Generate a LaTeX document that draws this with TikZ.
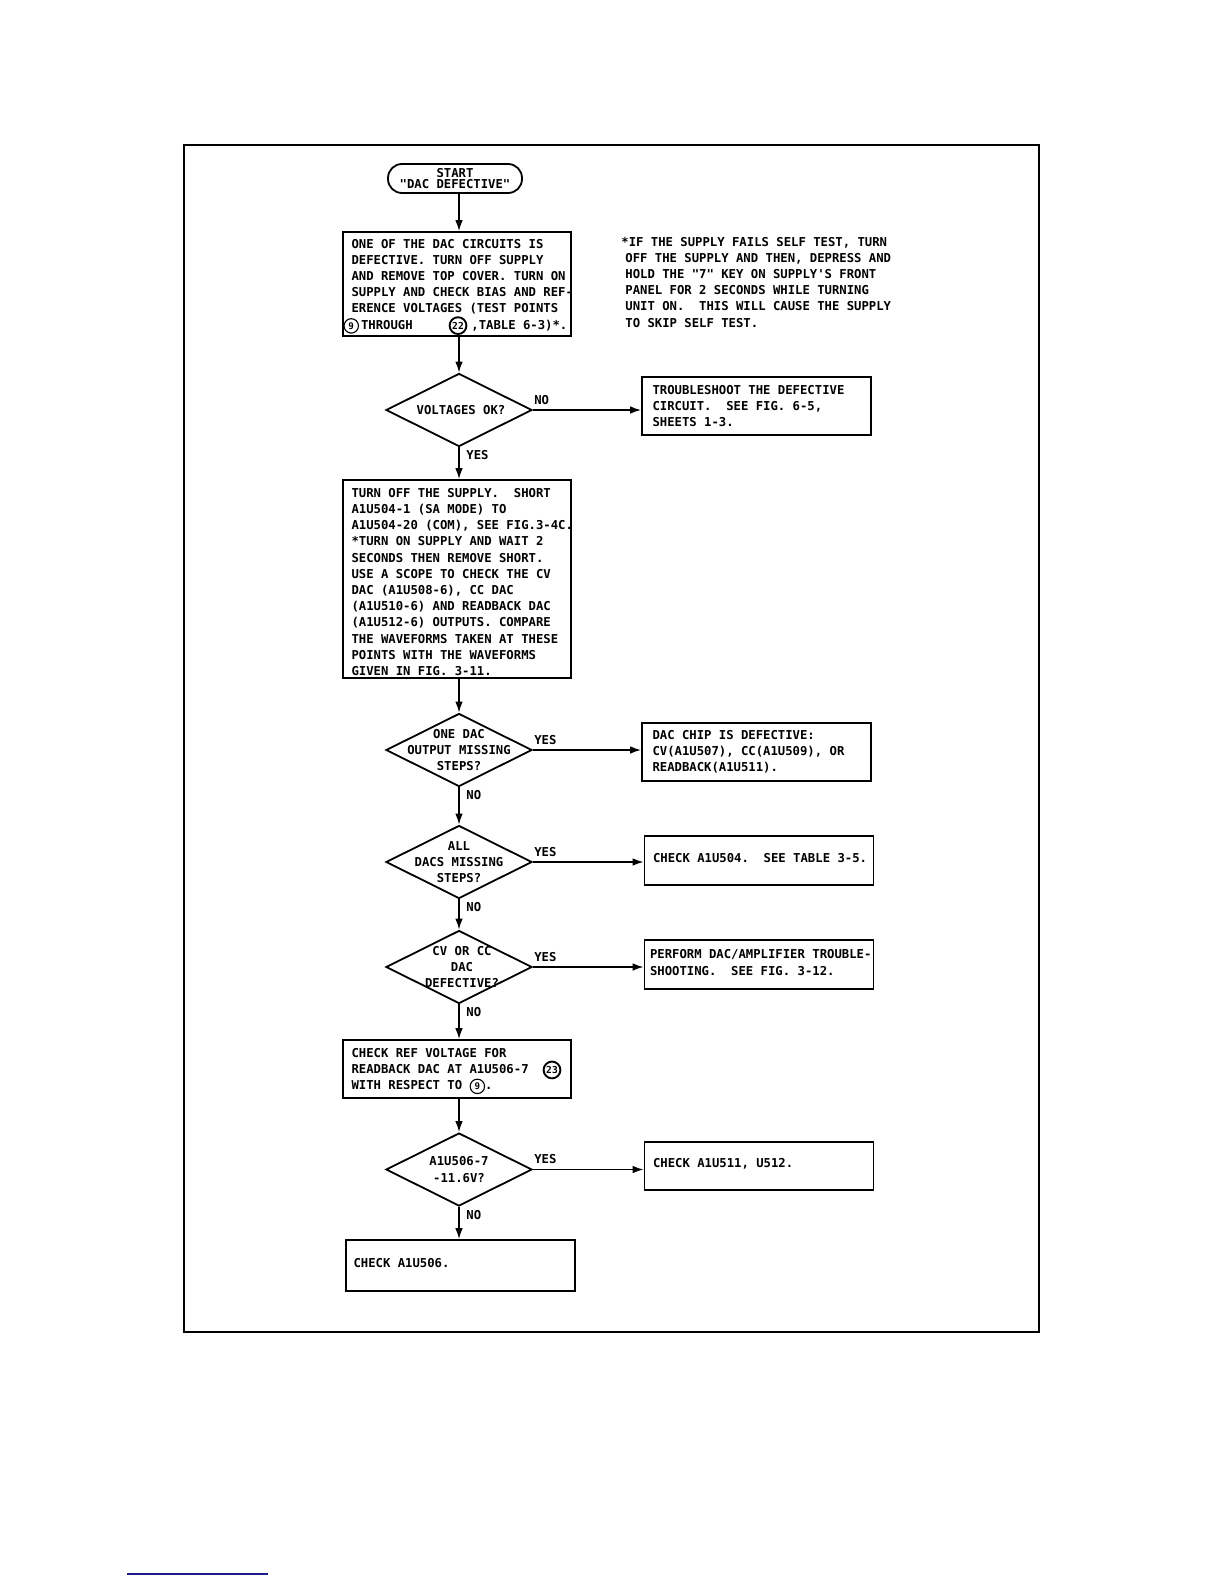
\documentclass[tikz,border=0pt]{standalone}
\usepackage{fontspec}
\newfontfamily\plotfont{DejaVu Sans Mono}
\usetikzlibrary{arrows.meta,shapes.geometric}
\definecolor{linkblue}{RGB}{28,28,140}
\newcommand\pf{\plotfont\bfseries\fontsize{6.13pt}{8.1pt}\selectfont}
\newcommand\cnum[1]{\smash{\tikz[baseline=(cn.base)]\node[circle,draw,line width=0.55pt,inner sep=0.3pt,minimum size=7.2pt,font=\plotfont\bfseries\fontsize{4.6pt}{5pt}\selectfont](cn){#1};}}
\newcommand\cnumb[1]{\smash{\tikz[baseline=(cn.base)]\node[circle,draw,line width=0.95pt,inner sep=0.2pt,minimum size=8.4pt,font=\plotfont\bfseries\fontsize{4.8pt}{5pt}\selectfont](cn){#1};}}
\begin{document}
\begin{tikzpicture}[x=0.5pt,y=-0.5pt,
  box/.style={draw,line width=0.9pt,rectangle,inner sep=0pt},
  lbox/.style={box,minimum width=114pt},
  sbox/.style={box,minimum width=114.5pt},
  txt/.style={font=\pf,align=left,inner sep=0pt,anchor=west},
  dia/.style={draw,line width=0.9pt,diamond,inner sep=0pt,minimum width=73pt,minimum height=36.5pt},
  dtxt/.style={font=\pf,align=center,inner sep=0pt},
  rlbl/.style={font=\pf,inner sep=0pt,anchor=south west,xshift=0.5pt,yshift=2.5pt},
  dlbl/.style={font=\pf,inner sep=0pt,anchor=north west,xshift=3.5pt,yshift=-1.5pt},
  arr/.style={line width=0.75pt,-{Latex[length=5.5pt,width=3.8pt]}},
]
\fill[white] (0,0) rectangle (1224,1584);
\useasboundingbox (0,0) rectangle (1224,1584);
\draw[line width=0.7pt] (184,145) rectangle (1039,1332);

% start
\node[box,rounded corners=7pt,minimum width=67pt,minimum height=14.5pt] (start) at (455,178.5) {};
\node[dtxt] (startt) at (start) {START\\[-2.2pt]"DAC DEFECTIVE"};

% box 1
\node[lbox,minimum height=52pt] (b1) at (457,284) {};
\node[txt,xshift=4.5pt,yshift=-0.5pt] (b1t) at (b1.west) {ONE OF THE DAC CIRCUITS IS\\
DEFECTIVE. TURN OFF SUPPLY\\
AND REMOVE TOP COVER. TURN ON\\
SUPPLY AND CHECK BIAS AND REF-\\
ERENCE VOLTAGES (TEST POINTS\\
\hspace*{-4pt}\cnum{9}\hspace{1pt}THROUGH\hspace{18pt}\cnumb{22}\hspace{2pt},TABLE 6-3)*.};

% note
\node[txt,anchor=north west] (note) at (621,236.5) {*IF THE SUPPLY FAILS SELF TEST, TURN\\
\hspace*{2pt}OFF THE SUPPLY AND THEN, DEPRESS AND\\
\hspace*{2pt}HOLD THE "7" KEY ON SUPPLY'S FRONT\\
\hspace*{2pt}PANEL FOR 2 SECONDS WHILE TURNING\\
\hspace*{2pt}UNIT ON.\ \ THIS WILL CAUSE THE SUPPLY\\
\hspace*{2pt}TO SKIP SELF TEST.};

% diamond 1
\node[dia] (d1) at (459,410) {};
\node[dtxt,xshift=1pt] (d1t) at (d1) {VOLTAGES OK?};
\node[box,minimum width=114.5pt,minimum height=29pt] (t1) at (756.5,406) {};
\node[txt,xshift=5.5pt] (t1t) at (t1.west) {TROUBLESHOOT THE DEFECTIVE\\
CIRCUIT.\ \ SEE FIG. 6-5,\\
SHEETS 1-3.};

% box 2
\node[lbox,minimum height=99pt] (b2) at (457,579) {};
\node[txt,xshift=4.5pt,yshift=-1.5pt] (b2t) at (b2.west) {TURN OFF THE SUPPLY.\ \ SHORT\\
A1U504-1 (SA MODE) TO\\
A1U504-20 (COM), SEE FIG.3-4C.\\
*TURN ON SUPPLY AND WAIT 2\\
SECONDS THEN REMOVE SHORT.\\
USE A SCOPE TO CHECK THE CV\\
DAC (A1U508-6), CC DAC\\
(A1U510-6) AND READBACK DAC\\
(A1U512-6) OUTPUTS. COMPARE\\
THE WAVEFORMS TAKEN AT THESE\\
POINTS WITH THE WAVEFORMS\\
GIVEN IN FIG. 3-11.};

% diamond 2
\node[dia] (d2) at (459,750) {};
\node[dtxt] (d2t) at (d2) {ONE DAC\\OUTPUT MISSING\\STEPS?};
\node[box,minimum width=114.5pt,minimum height=29pt] (c1) at (756.5,752) {};
\node[txt,xshift=5.5pt] (c1t) at (c1.west) {DAC CHIP IS DEFECTIVE:\\
CV(A1U507), CC(A1U509), OR\\
READBACK(A1U511).};

% diamond 3
\node[dia] (d3) at (459,862) {};
\node[dtxt] (d3t) at (d3) {ALL\\DACS MISSING\\STEPS?};
\node[sbox,minimum height=24.5pt] (c2) at (759,860.5) {};
\node[txt,xshift=4.5pt,yshift=1.3pt] (c2t) at (c2.west) {CHECK A1U504.\ \ SEE TABLE 3-5.};

% diamond 4
\node[dia] (d4) at (459,967) {};
\node[dtxt,xshift=1.5pt] (d4t) at (d4) {CV OR CC\\DAC\\DEFECTIVE?};
\node[sbox,minimum height=24.5pt] (c3) at (759,964.5) {};
\node[txt,xshift=3pt,yshift=1pt] (c3t) at (c3.west) {PERFORM DAC/AMPLIFIER TROUBLE-\\
SHOOTING.\ \ SEE FIG. 3-12.};

% ref box
\node[lbox,minimum height=29pt] (ref) at (457,1069) {};
\node[txt,xshift=4.5pt] (reft) at (ref.west) {CHECK REF VOLTAGE FOR\\
READBACK DAC AT A1U506-7\hspace{7pt}\cnumb{23}\\
WITH RESPECT TO \cnum{9}.};

% diamond 5
\node[dia] (d5) at (459,1169.5) {};
\node[dtxt] (d5t) at (d5) {A1U506-7\\-11.6V?};
\node[sbox,minimum height=24pt] (c4) at (759,1166) {};
\node[txt,xshift=4.5pt,yshift=1.3pt] (c4t) at (c4.west) {CHECK A1U511, U512.};

% final box
\node[box,minimum width=114.5pt,minimum height=25.5pt] (b3) at (460.5,1265.5) {};
\node[txt,xshift=4pt,yshift=1.3pt] (b3t) at (b3.west) {CHECK A1U506.};

% connectors
\draw[arr] (start.south -| d1.north) -- (b1.north -| d1.north);
\draw[arr] (b1.south -| d1.north) -- (d1.north);
\draw[arr] (d1.east) -- (d1.east -| t1.west);
\draw[arr] (d1.south) -- (b2.north -| d1.south);
\draw[arr] (b2.south -| d2.north) -- (d2.north);
\draw[arr] (d2.east) -- (d2.east -| c1.west);
\draw[arr] (d2.south) -- (d3.north);
\draw[arr] (d3.east) -- (d3.east -| c2.west);
\draw[arr] (d3.south) -- (d4.north);
\draw[arr] (d4.east) -- (d4.east -| c3.west);
\draw[arr] (d4.south) -- (ref.north -| d4.south);
\draw[arr] (ref.south -| d5.north) -- (d5.north);
\draw[arr] (d5.east) -- (d5.east -| c4.west);
\draw[arr] (d5.south) -- (b3.north -| d5.south);

% labels
\node[rlbl] (l1) at (d1.east) {NO};
\node[dlbl] (l2) at (d1.south) {YES};
\node[rlbl] (l3) at (d2.east) {YES};
\node[dlbl] (l4) at (d2.south) {NO};
\node[rlbl] (l5) at (d3.east) {YES};
\node[dlbl] (l6) at (d3.south) {NO};
\node[rlbl] (l7) at (d4.east) {YES};
\node[dlbl] (l8) at (d4.south) {NO};
\node[rlbl] (l9) at (d5.east) {YES};
\node[dlbl] (l10) at (d5.south) {NO};

% page link underline
\draw[line width=1pt,linkblue] (127,1574) -- (268,1574);
\end{tikzpicture}
\end{document}
